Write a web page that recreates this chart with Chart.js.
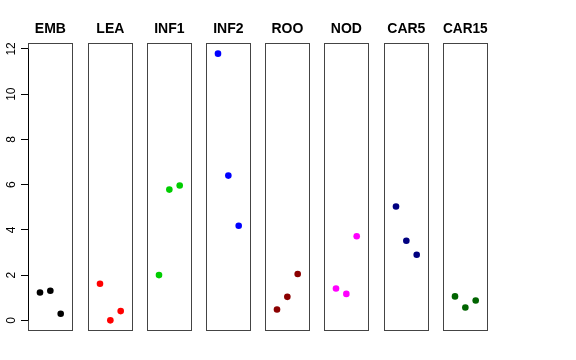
<!DOCTYPE html>
<html>
<head>
<meta charset="utf-8">
<script src="https://cdn.jsdelivr.net/npm/chart.js@4"></script>
<style>
  body { margin: 0; background: #fff; }
  #wrap { position: relative; width: 576px; height: 360px; overflow: hidden; }
  #wrap canvas { position: absolute; top: 0; }
</style>
</head>
<body>
<div id="wrap"></div>
<script>
// panel names, point colours and values (3 points per panel)
const panels = ['EMB', 'LEA', 'INF1', 'INF2', 'ROO', 'NOD', 'CAR5', 'CAR15'];
const colors = ['#000000', '#FF0000', '#00CD00', '#0000FF', '#8B0000', '#FF00FF', '#000080', '#006400'];
const xPos = [1, 2, 3];
const emb = [1.23, 1.31, 0.29];
const lea = [1.62, 0.0, 0.41];
const inf1 = [2.00, 5.78, 5.96];
const inf2 = [11.79, 6.40, 4.18];
const roo = [0.48, 1.04, 2.05];
const nod = [1.41, 1.17, 3.72];
const car5 = [5.03, 3.52, 2.90];
const car15 = [1.06, 0.57, 0.88];
const series = [emb, lea, inf1, inf2, roo, nod, car5, car15];
const yTicks = [0, 2, 4, 6, 8, 10, 12];

// layout of the small panels
const panelLeft = [28.3, 87.5, 146.7, 206, 265.2, 324.4, 383.6, 442.8];
const axisW = 29, panelW = 45, extra = 3;

const boxPlugin = {
  id: 'box',
  afterDraw(chart) {
    const a = chart.chartArea, ctx = chart.ctx;
    ctx.save();
    ctx.strokeStyle = '#444';
    ctx.lineWidth = 1;
    ctx.strokeRect(Math.round(a.left) + 0.5, Math.round(a.top) + 0.5,
                   Math.round(a.right - a.left) - 1, Math.round(a.bottom - a.top) - 1);
    // y axis line from first to last tick, like the original
    const y = chart.scales.y;
    if (y.options.display) {
      ctx.strokeStyle = '#000';
      ctx.beginPath();
      ctx.moveTo(Math.round(a.left) + 0.5, y.getPixelForValue(yTicks[0]));
      ctx.lineTo(Math.round(a.left) + 0.5, y.getPixelForValue(yTicks[yTicks.length - 1]));
      ctx.stroke();
    }
    ctx.restore();
  }
};

const wrap = document.getElementById('wrap');

series.forEach((vals, i) => {
  const canvas = document.createElement('canvas');
  canvas.width = axisW + panelW + extra;
  canvas.height = 360;
  canvas.style.left = Math.round(panelLeft[i] - axisW) + 'px';
  wrap.appendChild(canvas);

  const first = i === 0;
  new Chart(canvas, {
    type: 'scatter',
    data: {
      datasets: [{
        data: xPos.map((x, k) => ({ x: x, y: vals[k] })),
        backgroundColor: colors[i],
        borderWidth: 0,
        pointRadius: 3.3,
        pointHoverRadius: 3.3
      }]
    },
    options: {
      responsive: false,
      animation: false,
      events: [],
      layout: { padding: { left: 0, right: extra, top: 0, bottom: 29 } },
      plugins: {
        legend: { display: false },
        tooltip: { enabled: false },
        title: {
          display: true,
          text: panels[i],
          fullSize: false,
          color: '#000',
          font: { family: 'Liberation Sans, Arial, sans-serif', size: 14, weight: 'bold' },
          padding: { top: 20.6, bottom: 5.6 }
        }
      },
      scales: {
        x: { type: 'linear', min: -0.16, max: 4.16, display: false },
        y: {
          type: 'linear',
          min: -0.47,
          max: 12.26,
          display: first,
          afterBuildTicks: s => { s.ticks = yTicks.map(v => ({ value: v })); },
          afterFit: s => { s.width = axisW; },
          border: { display: false },
          grid: { display: true, drawOnChartArea: false, drawTicks: true, tickLength: 7, color: '#000' },
          ticks: {
            color: '#000',
            font: { family: 'Liberation Sans, Arial, sans-serif', size: 12 },
            minRotation: 90,
            maxRotation: 90,
            crossAlign: 'center',
            padding: 3
          }
        }
      }
    },
    plugins: [boxPlugin]
  });
});
</script>
</body>
</html>
